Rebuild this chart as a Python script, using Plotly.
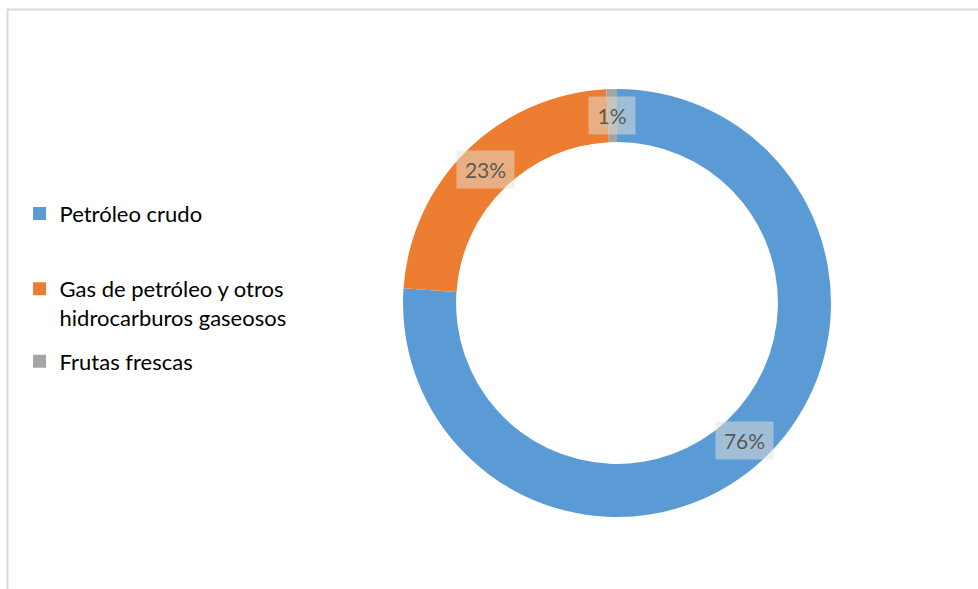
import math
import plotly.graph_objects as go

# ---- data ----
categories = ["Petróleo crudo",
              "Gas de petróleo y otros<br>hidrocarburos gaseosos",
              "Frutas frescas"]
values = [76.1, 23.1, 0.8]
colors = ["#5B9BD5", "#ED7D31", "#A5A5A5"]

W, H = 978, 589
# donut geometry (pixels)
cx_px, cy_px, R_px = 617, 303, 214
hole = 0.752

dom_x = [(cx_px - R_px) / W, (cx_px + R_px) / W]
dom_y = [1 - (cy_px + R_px) / H, 1 - (cy_px - R_px) / H]

fig = go.Figure()
fig.add_trace(go.Pie(
    labels=categories, values=values, hole=hole, sort=False,
    direction="clockwise", rotation=0,
    marker=dict(colors=colors, line=dict(width=0)),
    textinfo="none", hoverinfo="label+percent",
    domain=dict(x=dom_x, y=dom_y), showlegend=False,
))

# legend entries (one legend per category so they can be spaced like the original)
legend_tops = [0.673, 0.545, 0.422]
legend_names = ["legend", "legend2", "legend3"]
layout_legends = {}
for i, (cat, col) in enumerate(zip(categories, colors)):
    fig.add_trace(go.Scatter(
        x=[None], y=[None], mode="markers", name=cat,
        marker=dict(symbol="square", size=13, color=col),
        legend=legend_names[i], showlegend=True, hoverinfo="skip"))
    layout_legends[legend_names[i]] = dict(
        x=0.02, y=legend_tops[i], xanchor="left", yanchor="top",
        font=dict(family="Lato", size=22, color="#000000"),
        bgcolor="rgba(0,0,0,0)", valign="top", itemwidth=30,
        itemclick=False, itemdoubleclick=False)

# data labels on the ring
total = sum(values)
r_mid = R_px * (1 + hole) / 2
annotations = []
cum = 0.0
for v in values:
    frac = v / total
    theta = 2 * math.pi * (cum + frac / 2)
    cum += frac
    txt = f"{round(frac * 100)}%"
    annotations.append(dict(
        x=cx_px / W, y=1 - cy_px / H, xref="paper", yref="paper",
        xshift=r_mid * math.sin(theta), yshift=r_mid * math.cos(theta),
        text=txt, showarrow=False,
        font=dict(family="Lato", size=21, color="#595959"),
        bgcolor="rgba(229,225,213,0.5)", borderpad=5,
        width=11 * len(txt) + 14, height=27,
        xanchor="center", yanchor="middle"))

fig.update_layout(
    width=W, height=H,
    margin=dict(l=0, r=0, t=0, b=0),
    paper_bgcolor="white", plot_bgcolor="white",
    xaxis=dict(visible=False), yaxis=dict(visible=False),
    annotations=annotations,
    shapes=[dict(type="rect", xref="paper", yref="paper",
                 x0=7.5 / W, x1=1.02, y0=-0.02, y1=1 - 9.5 / H,
                 line=dict(color="#D9D9D9", width=2), fillcolor="rgba(0,0,0,0)")],
    **layout_legends,
)

fig.write_html("out.html")
